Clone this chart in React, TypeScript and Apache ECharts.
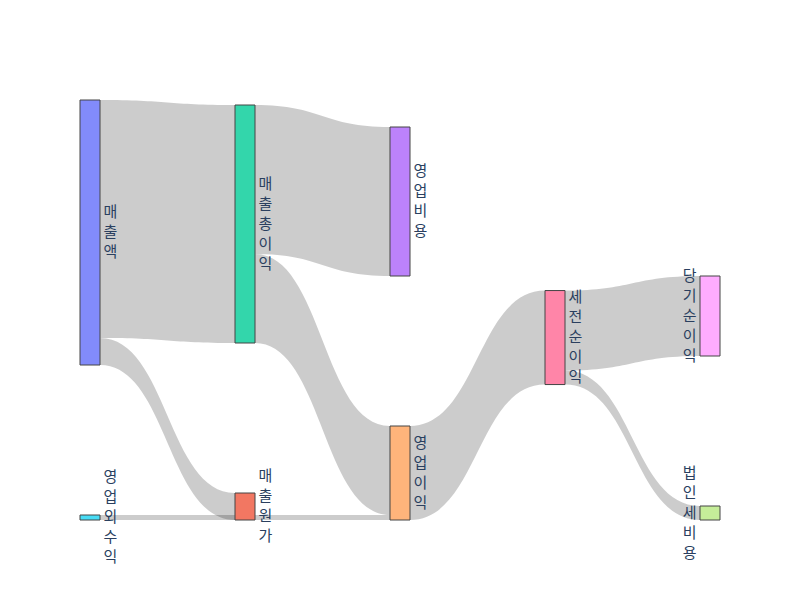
import React, { useEffect, useRef } from "react";
import * as echarts from "echarts";

const NODE_NAMES = ["매출액", "영업외수익", "매출총이익", "매출원가", "영업비용", "영업이익", "세전순이익", "당기순이익", "법인세비용"];
const NODE_COLORS = ["#828BFB", "#47DCF5", "#33D6AB", "#F27762", "#BC82FB", "#FFB47B", "#FF85A8", "#FFACFF", "#C5ED99"];

const LINK_SOURCES = ["매출액", "매출액", "영업외수익", "매출총이익", "매출총이익", "영업이익", "세전순이익", "세전순이익"];
const LINK_TARGETS = ["매출총이익", "매출원가", "영업이익", "영업비용", "영업이익", "세전순이익", "당기순이익", "법인세비용"];
const LINK_VALUES = [238, 27, 5, 149, 89, 94, 80, 14];

function computeDepths(): Record<string, number> {
  const depth: Record<string, number> = {};
  NODE_NAMES.forEach((n) => (depth[n] = 0));
  for (let it = 0; it < NODE_NAMES.length; it++) {
    LINK_SOURCES.forEach((s, i) => {
      const t = LINK_TARGETS[i];
      if (depth[t] < depth[s] + 1) depth[t] = depth[s] + 1;
    });
  }
  return depth;
}

export default function App() {
  const ref = useRef<HTMLDivElement>(null);
  useEffect(() => {
    if (!ref.current) return;
    const chart = echarts.init(ref.current, undefined, { renderer: "svg" });
    const depth = computeDepths();
    const maxDepth = Math.max(...Object.values(depth));
    const textColor = "#2a3f5f";
    const font = '"Open Sans", "Noto Sans CJK KR", sans-serif';
    chart.setOption({
      animation: false,
      backgroundColor: "#ffffff",
      series: [
        {
          type: "sankey",
          left: 80,
          top: 100,
          right: 80,
          bottom: 80,
          nodeWidth: 20,
          nodeGap: 150,
          nodeAlign: "left",
          layoutIterations: 50,
          draggable: false,
          emphasis: { disabled: true },
          data: NODE_NAMES.map((name, i) => ({
            name,
            itemStyle: { color: NODE_COLORS[i], borderColor: "#444", borderWidth: 1 },
            label: { position: depth[name] === maxDepth ? "left" : "right" },
          })),
          links: LINK_SOURCES.map((s, i) => ({ source: s, target: LINK_TARGETS[i], value: LINK_VALUES[i] })),
          lineStyle: { color: "#000000", opacity: 0.2, curveness: 0.5 },
          label: {
            show: true,
            distance: 3,
            offset: [0, -1.5],
            color: textColor,
            fontSize: 15,
            lineHeight: 20,
            fontFamily: font,
            formatter: (p: any) => String(p.name).split("").join("\n"),
          },
        },
      ],
    });
    return () => chart.dispose();
  }, []);
  return <div ref={ref} style={{ position: "fixed", left: 0, top: 0, width: 800, height: 600 }} />;
}
